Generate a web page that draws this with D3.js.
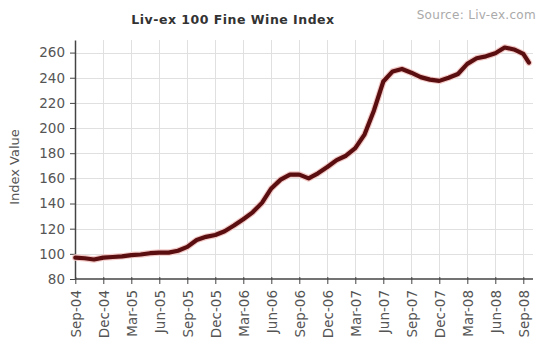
<!DOCTYPE html>
<html>
<head>
<meta charset="utf-8">
<script src="https://cdn.jsdelivr.net/npm/d3@7"></script>
<style>
  html, body { margin: 0; padding: 0; background: #fff; }
  svg { display: block; }
</style>
</head>
<body>
<svg id="chart" width="539" height="345"></svg>
<script>
// ---- data ----
const title = "Liv-ex 100 Fine Wine Index";
const source = "Source: Liv-ex.com";
const yTitle = "Index Value";

// month offsets from Sep-04 and index values
const monthOffsets = [
  0, 1, 2, 3, 4, 5, 6, 7, 8, 9, 10, 11,
  12, 13, 14, 15, 16, 17, 18, 19, 20, 21, 22, 23,
  24, 25, 26, 27, 28, 29, 30, 31, 32, 33, 34, 35,
  36, 37, 38, 39, 40, 41, 42, 43, 44, 45, 46, 47,
  48, 48.6
];
const indexValues = [
  97, 96.5, 95.5, 97, 97.5, 98, 99, 99.5, 100.5, 101, 101, 102.5,
  105.5, 111, 113.5, 115, 118, 122.5, 127.5, 133, 140.5, 152, 159, 163,
  163, 160, 164, 169, 174.5, 178, 184, 195, 214, 237, 245, 247,
  244, 240.5, 238.5, 237.5, 240, 243, 251, 255.5, 257, 259.5, 264, 262.5,
  259, 252
];
const tickOffsets = [0, 3, 6, 9, 12, 15, 18, 21, 24, 27, 30, 33, 36, 39, 42, 45, 48];
const tickLabels = ["Sep-04","Dec-04","Mar-05","Jun-05","Sep-05","Dec-05","Mar-06","Jun-06",
  "Sep-06","Dec-06","Mar-07","Jun-07","Sep-07","Dec-07","Mar-08","Jun-08","Sep-08"];
const yTicks = [80, 100, 120, 140, 160, 180, 200, 220, 240, 260];

// ---- layout ----
const svg = d3.select("#chart");
const pLeft = 75, pRight = 533, pTop = 40, pBottom = 279;
const font = "'DejaVu Sans', Verdana, sans-serif";

const x = d3.scaleLinear().domain([0, 48]).range([75.3, 523.3]);
const y = d3.scaleLinear().domain([80, 270]).range([pBottom, pTop]);

// gridlines
const grid = svg.append("g");
grid.selectAll("line.h").data(yTicks.filter(v => v > 80)).join("line")
  .attr("x1", pLeft).attr("x2", pRight)
  .attr("y1", d => Math.round(y(d)) + 0.5).attr("y2", d => Math.round(y(d)) + 0.5)
  .attr("stroke", "#e0e0e0").attr("stroke-width", 1);
grid.selectAll("line.v").data(tickOffsets.slice(1)).join("line")
  .attr("x1", d => Math.round(x(d)) + 0.5).attr("x2", d => Math.round(x(d)) + 0.5)
  .attr("y1", pTop).attr("y2", pBottom)
  .attr("stroke", "#e0e0e0").attr("stroke-width", 1);

// y axis
const yAxis = svg.append("g").attr("transform", `translate(${pLeft},0)`)
  .call(d3.axisLeft(y).tickValues(yTicks).tickSize(5).tickPadding(5).tickSizeOuter(0));
yAxis.select(".domain").attr("stroke", "#444").attr("stroke-width", 1.5);
yAxis.selectAll(".tick line").attr("stroke", "#444");
yAxis.selectAll(".tick text").attr("fill", "#555").style("font-family", font).style("font-size", "13.5px");

// x axis
const xAxis = svg.append("g").attr("transform", `translate(0,${pBottom})`)
  .call(d3.axisBottom(x).tickValues(tickOffsets).tickFormat((d, i) => tickLabels[i])
    .tickSize(5).tickPadding(6).tickSizeOuter(0));
xAxis.select(".domain").attr("stroke", "#444").attr("stroke-width", 1.5)
  .attr("d", `M${pLeft},0H${pRight}`);
xAxis.selectAll(".tick line").attr("stroke", "#444").attr("y1", -2);
xAxis.selectAll(".tick text")
  .attr("fill", "#555").style("font-family", font).style("font-size", "13.5px")
  .attr("text-anchor", "end")
  .attr("transform", "rotate(-90)")
  .attr("x", -11).attr("y", 0).attr("dy", "0.35em");

// line
const pts = monthOffsets.map((m, i) => [m, indexValues[i]]);
const line = d3.line().x(d => x(d[0])).y(d => y(d[1])).curve(d3.curveLinear);
svg.append("path").datum(pts).attr("d", line)
  .attr("fill", "none").attr("stroke", "#f2c9c6").attr("stroke-width", 6.5)
  .attr("stroke-linejoin", "round").attr("stroke-linecap", "round");
svg.append("path").datum(pts).attr("d", line)
  .attr("fill", "none").attr("stroke", "#5a0e10").attr("stroke-width", 4.2)
  .attr("stroke-linejoin", "round").attr("stroke-linecap", "round");

// texts
svg.append("text").attr("x", 233).attr("y", 24).attr("text-anchor", "middle")
  .style("font-family", font).style("font-size", "12.5px").style("font-weight", "bold")
  .style("letter-spacing", "0.5px")
  .attr("fill", "#333").text(title);
svg.append("text").attr("x", 536).attr("y", 19).attr("text-anchor", "end")
  .style("font-family", font).style("font-size", "12px")
  .style("letter-spacing", "0.3px")
  .attr("fill", "#aaa").text(source);
svg.append("text").attr("transform", "translate(19,167) rotate(-90)")
  .attr("text-anchor", "middle")
  .style("font-family", font).style("font-size", "13px")
  .attr("fill", "#555").text(yTitle);
</script>
</body>
</html>
